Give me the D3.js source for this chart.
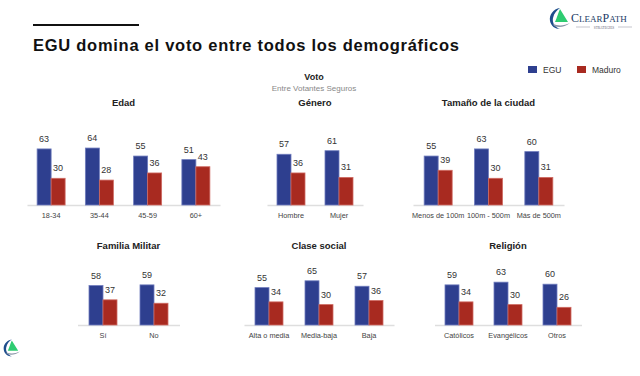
<!DOCTYPE html>
<html>
<head>
<meta charset="utf-8">
<script src="https://cdn.jsdelivr.net/npm/d3@7"></script>
<style>
  body { margin: 0; background: #fff; }
  svg { display: block; font-family: 'Liberation Sans', Arial, sans-serif; }
  .axis .domain { stroke: #dedede; stroke-width: 1.5; }
  .axis text { font-size: 7.3px; fill: #444; }
</style>
</head>
<body>
<div id="chart"></div>
<script>
const series = ['EGU', 'Maduro']
const seriesColors = ['#2e3f8f', '#a82a20']

const edadCats = ['18-34', '35-44', '45-59', '60+']
const edadEGU = [63, 64, 55, 51]
const edadMaduro = [30, 28, 36, 43]

const generoCats = ['Hombre', 'Mujer']
const generoEGU = [57, 61]
const generoMaduro = [36, 31]

const ciudadCats = ['Menos de 100m', '100m - 500m', 'Más de 500m']
const ciudadEGU = [55, 63, 60]
const ciudadMaduro = [39, 30, 31]

const militarCats = ['Sí', 'No']
const militarEGU = [58, 59]
const militarMaduro = [37, 32]

const claseCats = ['Alta o media', 'Media-baja', 'Baja']
const claseEGU = [55, 65, 57]
const claseMaduro = [34, 30, 36]

const religionCats = ['Católicos', 'Evangélicos', 'Otros']
const religionEGU = [59, 63, 60]
const religionMaduro = [34, 30, 26]

const width = 640
const height = 376

const svg = d3
  .select('#chart')
  .append('svg')
  .attr('width', width)
  .attr('height', height)

// rows: baseline and where 100% would sit (row 2 is flatter)
const rows = [
  { base: 205, top: 116, titleY: 106 },
  { base: 325, top: 257, titleY: 249 }
]

const panels = [
  { title: 'Edad', row: 0, range: [27, 220], cats: edadCats, egu: edadEGU, mad: edadMaduro },
  { title: 'Género', row: 0, range: [267, 363], cats: generoCats, egu: generoEGU, mad: generoMaduro },
  { title: 'Tamaño de la ciudad', row: 0, range: [413, 564], cats: ciudadCats, egu: ciudadEGU, mad: ciudadMaduro },
  { title: 'Familia Militar', row: 1, range: [77.5, 179.5], cats: militarCats, egu: militarEGU, mad: militarMaduro },
  { title: 'Clase social', row: 1, range: [244, 394], cats: claseCats, egu: claseEGU, mad: claseMaduro },
  { title: 'Religión', row: 1, range: [434.5, 581.5], cats: religionCats, egu: religionEGU, mad: religionMaduro }
]

// header line + title
svg.append('line')
  .attr('x1', 33).attr('x2', 139)
  .attr('y1', 25).attr('y2', 25)
  .attr('stroke', '#111')
  .attr('stroke-width', 2)

svg.append('text')
  .text('EGU domina el voto entre todos los demográficos')
  .attr('x', 33)
  .attr('y', 51)
  .attr('font-size', '16.5px')
  .attr('font-weight', 'bold')
  .attr('fill', '#111')
  .attr('textLength', 426)
  .attr('lengthAdjust', 'spacing')

// chart heading
svg.append('text').text('Voto')
  .attr('x', 314).attr('y', 80)
  .attr('text-anchor', 'middle')
  .attr('font-size', '9px').attr('font-weight', 'bold').attr('fill', '#222')

svg.append('text').text('Entre Votantes Seguros')
  .attr('x', 314).attr('y', 91)
  .attr('text-anchor', 'middle')
  .attr('font-size', '8px').attr('fill', '#888')

// legend
const legend = svg.append('g').attr('transform', 'translate(528,66)')
const legendX = d3.scaleOrdinal().domain(series).range([0, 49])
series.forEach((s, i) => {
  const lg = legend.append('g').attr('transform', `translate(${legendX(s)},0)`)
  lg.append('rect').attr('width', 9).attr('height', 7).attr('fill', seriesColors[i])
  lg.append('text').text(s).attr('x', 15).attr('y', 7)
    .attr('font-size', '8.5px').attr('fill', '#333')
})

const color = d3.scaleOrdinal().domain(series).range(seriesColors)
const x1 = d3.scaleBand().domain(series).range([-14, 14])

panels.forEach(p => {
  const row = rows[p.row]
  const x0 = d3.scaleBand().domain(p.cats).range(p.range)
  const y = d3.scaleLinear().domain([0, 100]).range([row.base, row.top])

  svg.append('text')
    .text(p.title)
    .attr('x', (p.range[0] + p.range[1]) / 2)
    .attr('y', row.titleY)
    .attr('text-anchor', 'middle')
    .attr('font-size', '9.5px')
    .attr('font-weight', 'bold')
    .attr('fill', '#222')

  const data = []
  p.cats.forEach((c, i) => {
    data.push({ cat: c, s: 'EGU', v: p.egu[i] })
    data.push({ cat: c, s: 'Maduro', v: p.mad[i] })
  })

  const g = svg.append('g')

  g.selectAll('rect')
    .data(data)
    .enter()
    .append('rect')
    .attr('x', d => x0(d.cat) + x0.bandwidth() / 2 + x1(d.s))
    .attr('y', d => y(d.v))
    .attr('width', x1.bandwidth())
    .attr('height', d => y(0) - y(d.v))
    .attr('fill', d => color(d.s))
    .attr('stroke', d => d.s === 'EGU' ? '#6f7cbd' : '#cf6a62')
    .attr('stroke-width', 0.8)

  g.selectAll('.val')
    .data(data)
    .enter()
    .append('text')
    .attr('class', 'val')
    .text(d => d.v)
    .attr('x', d => x0(d.cat) + x0.bandwidth() / 2 + x1(d.s) + x1.bandwidth() / 2)
    .attr('y', d => y(d.v) - 7)
    .attr('text-anchor', 'middle')
    .attr('font-size', '9px')
    .attr('fill', '#333')

  const axis = d3.axisBottom(x0).tickSize(0).tickPadding(8).tickSizeOuter(0)
  svg.append('g')
    .attr('class', 'axis')
    .attr('transform', `translate(0,${row.base})`)
    .call(axis)
    .lower()
})

// logo icon
function drawIcon(x, y, s) {
  const g = svg.append('g').attr('transform', `translate(${x},${y}) scale(${s})`)
  g.append('path')
    .attr('d', 'M11,2 C4,3 0,9 1,15 C2,20 6,23 11,23 C6,21 3,17 4,12 C5,7 8,4 11,2 Z')
    .attr('fill', '#1f4e8c')
  g.append('path')
    .attr('d', 'M11,3 L19,16 L6,16 C8,12 9,7 11,3 Z')
    .attr('fill', '#2ecc71')
  g.append('path')
    .attr('d', 'M4,18 C9,20 15,20 21,17 C16,21 10,22 5,20 Z')
    .attr('fill', '#8a96a8')
  return g
}

drawIcon(549, 6, 1)
svg.append('text')
  .attr('x', 571).attr('y', 22)
  .attr('font-family', "'Liberation Serif', serif")
  .attr('fill', '#223c66')
  .attr('font-size', '9px')
  .html('<tspan font-size="12px">C</tspan>LEAR<tspan font-size="12px">P</tspan>ATH')
svg.append('line').attr('x1', 576).attr('x2', 590).attr('y1', 27).attr('y2', 27).attr('stroke', '#889').attr('stroke-width', 0.5)
svg.append('line').attr('x1', 618).attr('x2', 632).attr('y1', 27).attr('y2', 27).attr('stroke', '#889').attr('stroke-width', 0.5)
svg.append('text').text('STRATEGIES')
  .attr('x', 604).attr('y', 28.5)
  .attr('text-anchor', 'middle')
  .attr('font-family', "'Liberation Serif', serif")
  .attr('font-size', '3.5px').attr('fill', '#667')

drawIcon(3, 338, 0.8)
</script>
</body>
</html>
